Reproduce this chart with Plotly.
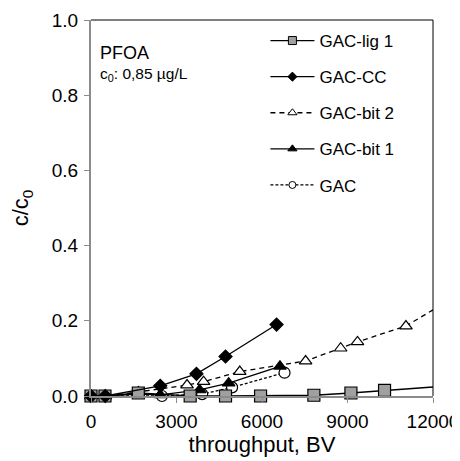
import plotly.graph_objects as go

# ---- data ----
lig1_bv = [0, 490, 1660, 3480, 4720, 5950, 7820, 9120, 10300]
lig1_c = [0.0, 0.0, 0.008, 0.0, 0.0, 0.0, 0.002, 0.008, 0.015]
lig1_line_end = [12000, 0.024]

cc_bv = [0, 500, 2430, 3700, 4720, 6510]
cc_c = [0.0, 0.0, 0.027, 0.059, 0.105, 0.19]

bit2_bv = [0, 500, 1665, 3370, 3950, 5220, 7530, 8760, 9350, 11050]
bit2_c = [0.0, 0.0, 0.011, 0.029, 0.038, 0.065, 0.093, 0.127, 0.144, 0.186]
bit2_line_end = [12000, 0.229]

bit1_bv = [0, 500, 1660, 2430, 3810, 4830, 6630]
bit1_c = [0.0, 0.0, 0.005, 0.003, 0.016, 0.034, 0.079]

gac_bv = [0, 500, 2490, 3900, 4950, 6790]
gac_c = [0.0, 0.0, 0.0, 0.005, 0.023, 0.062]

x_ticks = [0, 3000, 6000, 9000, 12000]
y_ticks = [0.0, 0.2, 0.4, 0.6, 0.8, 1.0]

FONT = "Liberation Sans, Arial, sans-serif"

series = [
    dict(name="GAC-lig 1", x=lig1_bv, y=lig1_c, end=lig1_line_end, dash="solid",
         symbol="square", fill="#a0a0a0", size=12, lsize=8),
    dict(name="GAC-CC", x=cc_bv, y=cc_c, end=None, dash="solid",
         symbol="diamond", fill="black", size=10, lsize=7),
    dict(name="GAC-bit 2", x=bit2_bv, y=bit2_c, end=bit2_line_end, dash="5px,4px",
         symbol="triangle-up", fill="white", size=11, lsize=8),
    dict(name="GAC-bit 1", x=bit1_bv, y=bit1_c, end=None, dash="solid",
         symbol="triangle-up", fill="black", size=11, lsize=8),
    dict(name="GAC", x=gac_bv, y=gac_c, end=None, dash="3px,2px",
         symbol="circle", fill="white", size=11, lsize=7),
]

draw_order = [4, 2, 3, 0, 1]

fig = go.Figure()
for i in draw_order:
    s = series[i]
    lx = list(s["x"])
    ly = list(s["y"])
    if s["end"] is not None:
        lx.append(s["end"][0])
        ly.append(s["end"][1])
    fig.add_trace(go.Scatter(x=lx, y=ly, mode="lines", showlegend=False,
                             line=dict(color="black", width=1.3, dash=s["dash"]),
                             cliponaxis=False, hoverinfo="skip"))
    fig.add_trace(go.Scatter(x=s["x"], y=s["y"], mode="markers", showlegend=False,
                             marker=dict(symbol=s["symbol"], size=s["size"], color=s["fill"],
                                         line=dict(color="black", width=1.2)),
                             cliponaxis=False))

for i, s in enumerate(series):
    fig.add_trace(go.Scatter(x=[None], y=[None], mode="lines+markers", name=s["name"],
                             legendgroup=f"g{i}", legendrank=i + 1,
                             line=dict(color="black", width=1.3, dash=s["dash"]),
                             marker=dict(symbol=s["symbol"], size=s["lsize"], color=s["fill"],
                                         line=dict(color="black", width=1))))

fig.add_shape(type="line", xref="paper", yref="paper", x0=0, x1=1, y0=1, y1=1,
              line=dict(color="black", width=1))
fig.add_shape(type="line", xref="paper", yref="paper", x0=1, x1=1, y0=0, y1=1,
              line=dict(color="black", width=1))

fig.add_annotation(text="PFOA", xref="paper", yref="paper", x=0.02, y=0.912,
                   xanchor="left", yanchor="middle", showarrow=False,
                   font=dict(family=FONT, size=18, color="black"))
fig.add_annotation(text="c<sub>0</sub>: 0,85 µg/L", xref="paper", yref="paper", x=0.02, y=0.855,
                   xanchor="left", yanchor="middle", showarrow=False,
                   font=dict(family=FONT, size=15.5, color="black"))

# page body has an 8px margin: figure is sized to fit the 460x461 window
fig.update_layout(
    width=452, height=453,
    margin=dict(l=83, r=27, t=12, b=65),
    paper_bgcolor="white", plot_bgcolor="white",
    font=dict(family=FONT, size=19, color="black"),
    showlegend=True,
    legend=dict(x=0.51, y=0.992, xanchor="left", yanchor="top",
                bgcolor="rgba(0,0,0,0)", font=dict(family=FONT, size=17),
                itemwidth=44, tracegroupgap=11, traceorder="grouped"),
    xaxis=dict(range=[0, 12000], tickvals=x_ticks, ticktext=[str(v) for v in x_ticks],
               showgrid=False, zeroline=False, showline=True, linecolor="#8c8c8c", linewidth=2,
               ticks="outside", ticklen=5, tickcolor="#8c8c8c", tickwidth=1,
               ticklabelstandoff=2, automargin=False,
               title=dict(text="throughput, BV", font=dict(family=FONT, size=22), standoff=4)),
    yaxis=dict(range=[0, 1], tickvals=y_ticks, ticktext=[f"{v:.1f}" for v in y_ticks],
               showgrid=False, zeroline=False, showline=True, linecolor="#8c8c8c", linewidth=2,
               ticks="outside", ticklen=5, tickcolor="#8c8c8c", tickwidth=1,
               ticklabelstandoff=2, automargin=False,
               title=dict(text="c/c<sub>0</sub>", font=dict(family=FONT, size=22), standoff=18)),
)

fig.write_html("out.html")
